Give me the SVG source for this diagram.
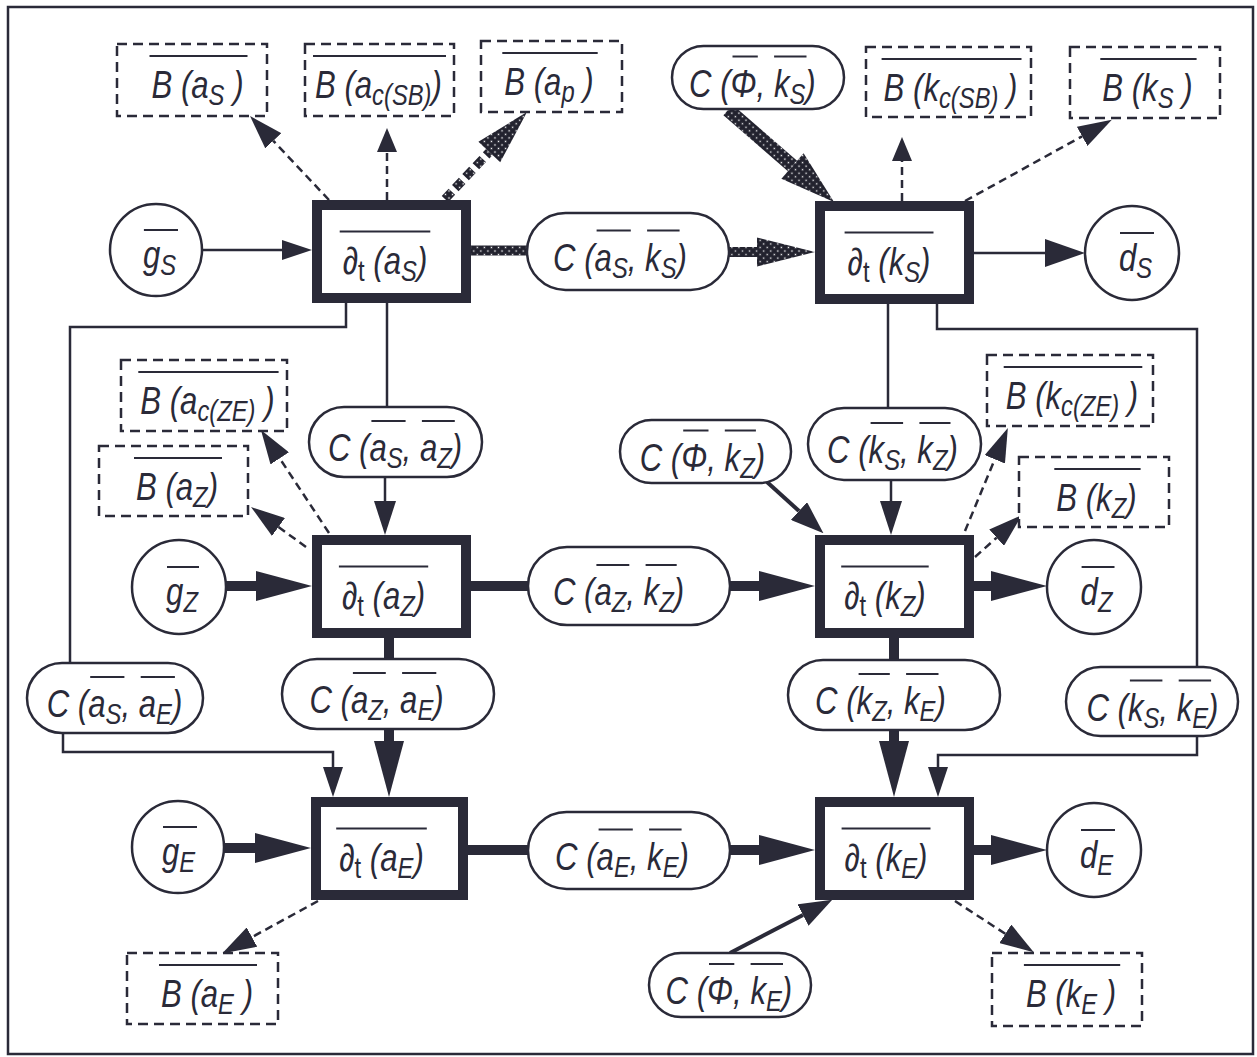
<svg xmlns="http://www.w3.org/2000/svg" width="1257" height="1057" viewBox="0 0 1257 1057">
<defs>
<style>
text{font-family:"Liberation Sans",Arial,sans-serif;font-style:italic;font-size:38px;fill:#2a2a38}
.s{font-size:29px}
.t{font-size:29px;font-style:normal}
.box{fill:#fff;stroke:#2a2a38;stroke-width:10}
.pill{fill:#fff;stroke:#2a2a38;stroke-width:2.5}
.db{fill:#fff;stroke:#2a2a38;stroke-width:2.5;stroke-dasharray:10 6}
.ol{stroke:#2a2a38;stroke-width:2;fill:none}
.thin{fill:none;stroke:#2a2a38;stroke-width:2.5}
.med{fill:none;stroke:#2a2a38;stroke-width:4}
.thk{fill:none;stroke:#2a2a38;stroke-width:10}
.dsh{fill:none;stroke:#2a2a38;stroke-width:2.5;stroke-dasharray:8 5}
.hf{fill:url(#hatch)}
</style>
<pattern id="hatch" width="5" height="5" patternUnits="userSpaceOnUse" patternTransform="rotate(45)">
<rect width="5" height="5" fill="#22222e"/><rect x="1.8" y="1.8" width="1.4" height="1.4" fill="#fff"/>
</pattern>
<marker id="ah" markerUnits="userSpaceOnUse" viewBox="0 -10 30 20" markerWidth="30" markerHeight="20" refX="0" refY="0" orient="auto"><path d="M0,-10 L30,0 L0,10z" fill="#2a2a38"/></marker>
<marker id="ahd" markerUnits="userSpaceOnUse" viewBox="0 -11 34 22" markerWidth="34" markerHeight="22" refX="0" refY="0" orient="auto"><path d="M0,-11 L34,0 L0,11z" fill="#2a2a38"/></marker>
<marker id="ahs" markerUnits="userSpaceOnUse" viewBox="0 -10 24 20" markerWidth="24" markerHeight="20" refX="0" refY="0" orient="auto"><path d="M0,-10 L24,0 L0,10z" fill="#2a2a38"/></marker>
<marker id="ahm" markerUnits="userSpaceOnUse" viewBox="0 -14 40 28" markerWidth="40" markerHeight="28" refX="0" refY="0" orient="auto"><path d="M0,-14 L40,0 L0,14z" fill="#2a2a38"/></marker>
<marker id="ahk" markerUnits="userSpaceOnUse" viewBox="0 -12 33 24" markerWidth="33" markerHeight="24" refX="0" refY="0" orient="auto"><path d="M0,-12 L33,0 L0,12z" fill="#2a2a38"/></marker>
<marker id="ahb" markerUnits="userSpaceOnUse" viewBox="0 -15 56 30" markerWidth="56" markerHeight="30" refX="0" refY="0" orient="auto"><path d="M0,-15 L56,0 L0,15z" fill="#2a2a38"/></marker>
</defs>
<rect width="1257" height="1057" fill="#fff"/>
<rect x="8" y="7" width="1245" height="1047" fill="none" stroke="#2a2a38" stroke-width="2.5"/>

<g id="connectors">
<path class="thin" d="M202,250 H282" marker-end="url(#ah)"/>
<path class="thin" d="M385,477 V501" marker-end="url(#ahd)"/>
<path class="thin" d="M891,480 V501" marker-end="url(#ahd)"/>
<path class="thin" d="M974,253 H1045" marker-end="url(#ahm)"/>
<path class="thin" d="M346,303 V327 H70 V663"/>
<path class="thin" d="M387,303 V407"/>
<path class="thin" d="M63,733 V752 H333 V767" marker-end="url(#ah)"/>
<path class="thin" d="M888,304 V408"/>
<path class="thin" d="M937,304 V329 H1197 V667"/>
<path class="thin" d="M1197,736 V755 H938 V767" marker-end="url(#ah)"/>
<path class="med" d="M767,482 L799,511" marker-end="url(#ahk)"/>
<path class="med" d="M730,953 L803,915" marker-end="url(#ahk)"/>
<path class="thk" d="M226,586 H256" marker-end="url(#ahb)"/>
<path class="thk" d="M471,586 H528"/>
<path class="thk" d="M730,586 H759" marker-end="url(#ahb)"/>
<path class="thk" d="M974,586 H991" marker-end="url(#ahb)"/>
<path class="thk" d="M389,638 V660"/>
<path class="thk" d="M389,729 V741" marker-end="url(#ahb)"/>
<path class="thk" d="M224,848 H255" marker-end="url(#ahb)"/>
<path class="thk" d="M468,850 H528"/>
<path class="thk" d="M730,850 H759" marker-end="url(#ahb)"/>
<path class="thk" d="M974,850 H991" marker-end="url(#ahb)"/>
<path class="thk" d="M894,638 V661"/>
<path class="thk" d="M894,730 V741" marker-end="url(#ahb)"/>
<path class="dsh" d="M329,200 L273.3,140.8" marker-end="url(#ahd)"/>
<path class="dsh" d="M387,200 V152" marker-end="url(#ahs)"/>
<path class="dsh" d="M902,201 V161" marker-end="url(#ahs)"/>
<path class="dsh" d="M965,201 L1082.1,136.3" marker-end="url(#ahd)"/>
<path class="dsh" d="M329,533 L279.7,458.4" marker-end="url(#ahd)"/>
<path class="dsh" d="M306,547 L278.5,527" marker-end="url(#ahd)"/>
<path class="dsh" d="M965,531 L994.8,459.3" marker-end="url(#ahd)"/>
<path class="dsh" d="M975,557 L996.6,537.7" marker-end="url(#ahd)"/>
<path class="dsh" d="M318,901 L252,937.1" marker-end="url(#ahd)"/>
<path class="dsh" d="M955,901 L1005.3,933.8" marker-end="url(#ahd)"/>
<rect class="hf" x="471" y="245.5" width="57" height="10"/>
<rect class="hf" x="729" y="247" width="30" height="10"/>
<polygon class="hf" points="757,237.5 815,252 757,266.5"/>
<path d="M445,199 L489.3,152" fill="none" stroke="url(#hatch)" stroke-width="9" stroke-dasharray="10 5"/>
<polygon class="hf" points="500.2,162.3 527,112 478.4,141.7"/>
<path d="M728,110 L792.5,166" fill="none" stroke="url(#hatch)" stroke-width="14"/>
<polygon class="hf" points="781.4,178.8 834,202 803.6,153.2"/>
</g>

<g id="B_aS"><rect class="db" x="117" y="44" width="150" height="72"/><line class="ol" x1="149.5" y1="56" x2="247.5" y2="56"/><text transform="matrix(.82 0 0 1 151.5 98)">B (a<tspan class="s" dy="7">S</tspan><tspan dy="-7"> )</tspan></text></g>
<g id="B_acSB"><rect class="db" x="305" y="44" width="149" height="72"/><line class="ol" x1="313" y1="56" x2="446" y2="56"/><text transform="matrix(.82 0 0 1 315 98)">B (a<tspan class="s" dy="7">c(SB)</tspan><tspan dy="-7">)</tspan></text></g>
<g id="B_ap"><rect class="db" x="481" y="41" width="141" height="71"/><line class="ol" x1="502.3" y1="53" x2="597.7" y2="53"/><text transform="matrix(.82 0 0 1 504.3 95)">B (a<tspan class="s" dy="7">p</tspan><tspan dy="-7"> )</tspan></text></g>
<g id="C_Phi_kS"><rect class="pill" x="672" y="46" width="172" height="63" rx="31.5"/><line class="ol" x1="732.5" y1="56.5" x2="757.8" y2="56.5"/><line class="ol" x1="774.1" y1="56.5" x2="806.5" y2="56.5"/><text transform="matrix(.82 0 0 1 689 96.5)">C (Φ, k<tspan class="s" dy="7">S</tspan><tspan dy="-7">)</tspan></text></g>
<g id="B_kcSB"><rect class="db" x="866" y="47" width="165" height="70"/><line class="ol" x1="881.6" y1="59" x2="1021.5" y2="59"/><text transform="matrix(.82 0 0 1 883.6 101)">B (k<tspan class="s" dy="7">c(SB)</tspan><tspan dy="-7"> )</tspan></text></g>
<g id="B_kS"><rect class="db" x="1070" y="47" width="150" height="71"/><line class="ol" x1="1100.3" y1="59" x2="1196.6" y2="59"/><text transform="matrix(.82 0 0 1 1102.3 101)">B (k<tspan class="s" dy="7">S</tspan><tspan dy="-7"> )</tspan></text></g>

<g id="g_S"><circle class="pill" cx="156" cy="250" r="46"/><line class="ol" x1="143.9" y1="230" x2="178" y2="230"/><text transform="matrix(.82 0 0 1 142.9 268)">g<tspan class="s" dy="7">S</tspan></text></g>
<g id="dt_aS"><rect class="box" x="317" y="205" width="149" height="93"/><line class="ol" x1="339.7" y1="231.5" x2="430.3" y2="231.5"/><text transform="matrix(.82 0 0 1 342.7 273.5)">∂<tspan class="t" dy="7">t</tspan><tspan dy="-7"> (a</tspan><tspan class="s" dy="7">S</tspan><tspan dy="-7">)</tspan></text></g>
<g id="C_aS_kS"><rect class="pill" x="527" y="213" width="202" height="77" rx="38.5"/><line class="ol" x1="596.6" y1="230.5" x2="630.8" y2="230.5"/><line class="ol" x1="647.1" y1="230.5" x2="679.6" y2="230.5"/><text transform="matrix(.82 0 0 1 553.1 270.5)">C (a<tspan class="s" dy="7">S</tspan><tspan dy="-7">, k</tspan><tspan class="s" dy="7">S</tspan><tspan dy="-7">)</tspan></text></g>
<g id="dt_kS"><rect class="box" x="820" y="206" width="149" height="93"/><line class="ol" x1="844.6" y1="232.5" x2="933.5" y2="232.5"/><text transform="matrix(.82 0 0 1 847.6 274.5)">∂<tspan class="t" dy="7">t</tspan><tspan dy="-7"> (k</tspan><tspan class="s" dy="7">S</tspan><tspan dy="-7">)</tspan></text></g>
<g id="d_S"><circle class="pill" cx="1132" cy="253" r="47"/><line class="ol" x1="1120" y1="233" x2="1154" y2="233"/><text transform="matrix(.82 0 0 1 1118.9 271)">d<tspan class="s" dy="7">S</tspan></text></g>

<g id="B_acZE"><rect class="db" x="121" y="360" width="166" height="71"/><line class="ol" x1="138.3" y1="372" x2="278.6" y2="372"/><text transform="matrix(.82 0 0 1 140.3 414)">B (a<tspan class="s" dy="7">c(ZE)</tspan><tspan dy="-7"> )</tspan></text></g>
<g id="B_aZ"><rect class="db" x="99" y="446" width="149" height="70"/><line class="ol" x1="134" y1="458" x2="222" y2="458"/><text transform="matrix(.82 0 0 1 136 500)">B (a<tspan class="s" dy="7">Z</tspan><tspan dy="-7">)</tspan></text></g>
<g id="C_aS_aZ"><rect class="pill" x="309" y="407" width="173" height="70" rx="35"/><line class="ol" x1="371.4" y1="421" x2="405.6" y2="421"/><line class="ol" x1="421.9" y1="421" x2="454.8" y2="421"/><text transform="matrix(.82 0 0 1 327.9 461)">C (a<tspan class="s" dy="7">S</tspan><tspan dy="-7">, a</tspan><tspan class="s" dy="7">Z</tspan><tspan dy="-7">)</tspan></text></g>
<g id="C_Phi_kZ"><rect class="pill" x="620" y="420" width="171" height="63" rx="31.5"/><line class="ol" x1="683.2" y1="430.5" x2="708.5" y2="430.5"/><line class="ol" x1="724.8" y1="430.5" x2="755.9" y2="430.5"/><text transform="matrix(.82 0 0 1 639.7 470.5)">C (Φ, k<tspan class="s" dy="7">Z</tspan><tspan dy="-7">)</tspan></text></g>
<g id="C_kS_kZ"><rect class="pill" x="808" y="408" width="173" height="72" rx="36"/><line class="ol" x1="870.6" y1="423" x2="903.1" y2="423"/><line class="ol" x1="919.4" y1="423" x2="950.5" y2="423"/><text transform="matrix(.82 0 0 1 827.1 463)">C (k<tspan class="s" dy="7">S</tspan><tspan dy="-7">, k</tspan><tspan class="s" dy="7">Z</tspan><tspan dy="-7">)</tspan></text></g>
<g id="B_kcZE"><rect class="db" x="987" y="355" width="166" height="71"/><line class="ol" x1="1003.7" y1="367" x2="1142.3" y2="367"/><text transform="matrix(.82 0 0 1 1005.7 409)">B (k<tspan class="s" dy="7">c(ZE)</tspan><tspan dy="-7"> )</tspan></text></g>
<g id="B_kZ"><rect class="db" x="1019" y="457" width="150" height="70"/><line class="ol" x1="1054.3" y1="469" x2="1140.6" y2="469"/><text transform="matrix(.82 0 0 1 1056.3 511)">B (k<tspan class="s" dy="7">Z</tspan><tspan dy="-7">)</tspan></text></g>

<g id="g_Z"><circle class="pill" cx="179" cy="587" r="47"/><line class="ol" x1="167" y1="567" x2="199" y2="567"/><text transform="matrix(.82 0 0 1 166.1 605)">g<tspan class="s" dy="7">Z</tspan></text></g>
<g id="dt_aZ"><rect class="box" x="317" y="540" width="149" height="93"/><line class="ol" x1="338.9" y1="566.5" x2="428.2" y2="566.5"/><text transform="matrix(.82 0 0 1 341.9 608.5)">∂<tspan class="t" dy="7">t</tspan><tspan dy="-7"> (a</tspan><tspan class="s" dy="7">Z</tspan><tspan dy="-7">)</tspan></text></g>
<g id="C_aZ_kZ"><rect class="pill" x="528" y="547" width="202" height="78" rx="39"/><line class="ol" x1="596.4" y1="565" x2="629.3" y2="565"/><line class="ol" x1="645.6" y1="565" x2="676.7" y2="565"/><text transform="matrix(.82 0 0 1 552.9 605)">C (a<tspan class="s" dy="7">Z</tspan><tspan dy="-7">, k</tspan><tspan class="s" dy="7">Z</tspan><tspan dy="-7">)</tspan></text></g>
<g id="dt_kZ"><rect class="box" x="820" y="540" width="149" height="93"/><line class="ol" x1="841.2" y1="566.5" x2="928.7" y2="566.5"/><text transform="matrix(.82 0 0 1 844.2 608.5)">∂<tspan class="t" dy="7">t</tspan><tspan dy="-7"> (k</tspan><tspan class="s" dy="7">Z</tspan><tspan dy="-7">)</tspan></text></g>
<g id="d_Z"><circle class="pill" cx="1094" cy="587" r="47"/><line class="ol" x1="1081.6" y1="567" x2="1114.5" y2="567"/><text transform="matrix(.82 0 0 1 1080.6 605)">d<tspan class="s" dy="7">Z</tspan></text></g>

<g id="C_aS_aE"><rect class="pill" x="27" y="663" width="176" height="70" rx="35"/><line class="ol" x1="90.2" y1="677" x2="124.4" y2="677"/><line class="ol" x1="140.7" y1="677" x2="174.9" y2="677"/><text transform="matrix(.82 0 0 1 46.7 717)">C (a<tspan class="s" dy="7">S</tspan><tspan dy="-7">, a</tspan><tspan class="s" dy="7">E</tspan><tspan dy="-7">)</tspan></text></g>
<g id="C_aZ_aE"><rect class="pill" x="282" y="659" width="212" height="70" rx="35"/><line class="ol" x1="352.9" y1="673" x2="385.8" y2="673"/><line class="ol" x1="402.1" y1="673" x2="436.3" y2="673"/><text transform="matrix(.82 0 0 1 309.4 713)">C (a<tspan class="s" dy="7">Z</tspan><tspan dy="-7">, a</tspan><tspan class="s" dy="7">E</tspan><tspan dy="-7">)</tspan></text></g>
<g id="C_kZ_kE"><rect class="pill" x="788" y="660" width="212" height="70" rx="35"/><line class="ol" x1="858.6" y1="674" x2="889.8" y2="674"/><line class="ol" x1="906.1" y1="674" x2="938.5" y2="674"/><text transform="matrix(.82 0 0 1 815.1 714)">C (k<tspan class="s" dy="7">Z</tspan><tspan dy="-7">, k</tspan><tspan class="s" dy="7">E</tspan><tspan dy="-7">)</tspan></text></g>
<g id="C_kS_kE"><rect class="pill" x="1066" y="667" width="172" height="69" rx="34.5"/><line class="ol" x1="1129.9" y1="680.5" x2="1162.4" y2="680.5"/><line class="ol" x1="1178.7" y1="680.5" x2="1211.1" y2="680.5"/><text transform="matrix(.82 0 0 1 1086.4 720.5)">C (k<tspan class="s" dy="7">S</tspan><tspan dy="-7">, k</tspan><tspan class="s" dy="7">E</tspan><tspan dy="-7">)</tspan></text></g>

<g id="g_E"><circle class="pill" cx="178" cy="847" r="46"/><line class="ol" x1="163" y1="827" x2="197" y2="827"/><text transform="matrix(.82 0 0 1 161.9 865)">g<tspan class="s" dy="7">E</tspan></text></g>
<g id="dt_aE"><rect class="box" x="316" y="802" width="147" height="93"/><line class="ol" x1="336.2" y1="828.5" x2="426.8" y2="828.5"/><text transform="matrix(.82 0 0 1 339.2 870.5)">∂<tspan class="t" dy="7">t</tspan><tspan dy="-7"> (a</tspan><tspan class="s" dy="7">E</tspan><tspan dy="-7">)</tspan></text></g>
<g id="C_aE_kE"><rect class="pill" x="528" y="812" width="202" height="77" rx="38.5"/><line class="ol" x1="598.6" y1="829.5" x2="632.8" y2="829.5"/><line class="ol" x1="649.1" y1="829.5" x2="681.6" y2="829.5"/><text transform="matrix(.82 0 0 1 555.1 869.5)">C (a<tspan class="s" dy="7">E</tspan><tspan dy="-7">, k</tspan><tspan class="s" dy="7">E</tspan><tspan dy="-7">)</tspan></text></g>
<g id="dt_kE"><rect class="box" x="820" y="802" width="149" height="93"/><line class="ol" x1="841.6" y1="828.5" x2="930.5" y2="828.5"/><text transform="matrix(.82 0 0 1 844.6 870.5)">∂<tspan class="t" dy="7">t</tspan><tspan dy="-7"> (k</tspan><tspan class="s" dy="7">E</tspan><tspan dy="-7">)</tspan></text></g>
<g id="d_E"><circle class="pill" cx="1094" cy="850" r="47"/><line class="ol" x1="1081" y1="830" x2="1115" y2="830"/><text transform="matrix(.82 0 0 1 1080 868)">d<tspan class="s" dy="7">E</tspan></text></g>

<g id="B_aE"><rect class="db" x="127" y="953" width="151" height="71"/><line class="ol" x1="159" y1="965" x2="257" y2="965"/><text transform="matrix(.82 0 0 1 161 1007)">B (a<tspan class="s" dy="7">E</tspan><tspan dy="-7"> )</tspan></text></g>
<g id="C_Phi_kE"><rect class="pill" x="649" y="953" width="162" height="64" rx="32"/><line class="ol" x1="709" y1="964" x2="734.3" y2="964"/><line class="ol" x1="750.6" y1="964" x2="783" y2="964"/><text transform="matrix(.82 0 0 1 665.5 1004)">C (Φ, k<tspan class="s" dy="7">E</tspan><tspan dy="-7">)</tspan></text></g>
<g id="B_kE"><rect class="db" x="992" y="953" width="150" height="73"/><line class="ol" x1="1023.9" y1="965" x2="1120.2" y2="965"/><text transform="matrix(.82 0 0 1 1025.9 1007)">B (k<tspan class="s" dy="7">E</tspan><tspan dy="-7"> )</tspan></text></g>
</svg>
